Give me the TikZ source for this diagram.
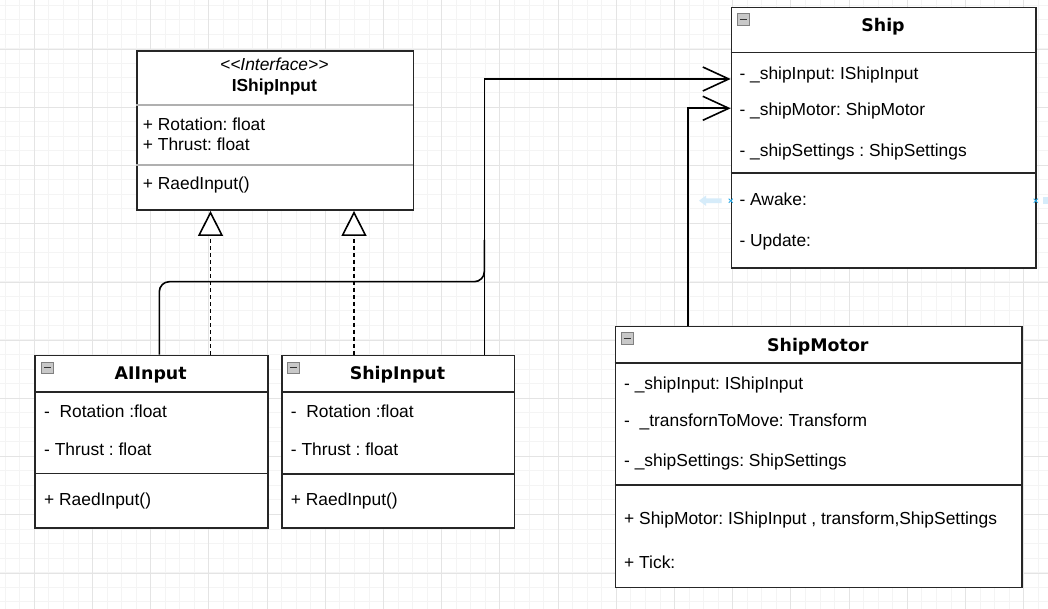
\documentclass[tikz,border=0pt]{standalone}
\usepackage{fontspec}
\setmainfont{Liberation Sans}
\newfontfamily\vfont{DejaVu Sans}
\usetikzlibrary{arrows.meta}
\frenchspacing
\definecolor{gridminor}{HTML}{F4F4F4}
\definecolor{gridmajor}{HTML}{E4E4E4}
\definecolor{boxline}{HTML}{262626}
\definecolor{sepgray}{HTML}{B0B0B0}
\definecolor{iconfill}{HTML}{C8C8C8}
\definecolor{iconline}{HTML}{808080}
\definecolor{selblue}{HTML}{29A9E6}
\definecolor{ghostblue}{HTML}{D6ECFA}
\tikzset{
  classbox/.style={draw=boxline, line width=1.6pt, fill=white, anchor=north west, inner sep=0pt},
  attr/.style={anchor=base west, inner sep=0pt, font=\fontsize{17.4}{20}\selectfont},
  ctitle/.style={anchor=base, inner sep=0pt, font=\vfont\bfseries\fontsize{17.4}{20}\selectfont},
  ititle/.style={anchor=base, inner sep=0pt, font=\bfseries\fontsize{17.4}{20}\selectfont},
  stereo/.style={anchor=base, inner sep=0pt, font=\itshape\fontsize{17.4}{20}\selectfont},
  sep/.style={draw=boxline, line width=1.6pt},
  lightsep/.style={draw=sepgray, line width=1.6pt},
  conn/.style={draw=black, line width=1.6pt},
  assoc/.style={conn, -{Straight Barb[length=26pt,width=24pt]}},
  realize/.style={conn, dash pattern=on 4pt off 3pt, -{Triangle[length=25pt,width=25pt,fill=white]}},
  iconbox/.style={draw=iconline, line width=0.8pt, fill=iconfill},
  iconminus/.style={draw=black!80, line width=1.4pt},
  gmin/.style={draw=gridminor, line width=0.9pt},
  gmaj/.style={draw=gridmajor, line width=0.9pt}
}
\begin{document}
\begin{tikzpicture}[x=1pt, y=-1pt]
\useasboundingbox (0,0) rectangle (1048,609);
\fill[white] (0,0) rectangle (1048,609);
% grid
\foreach \k in {0,...,71} {\pgfmathsetmacro\xx{5.2+\k*14.55}\draw[gmin] (\xx,0) -- (\xx,609);}
\foreach \k in {0,...,41} {\pgfmathsetmacro\yy{5.2+\k*14.55}\draw[gmin] (0,\yy) -- (1048,\yy);}
\foreach \k in {0,...,17} {\pgfmathsetmacro\xx{34.3+\k*58.2}\draw[gmaj] (\xx,0) -- (\xx,609);}
\foreach \k in {0,...,9} {\pgfmathsetmacro\yy{49.3+\k*58.2}\draw[gmaj] (0,\yy) -- (1048,\yy);}

% IShipInput
\node[classbox, minimum width=276.7pt, minimum height=159.3pt] (iface) at (136,50) {};
\draw[lightsep] (136,105) -- (412.7,105);
\draw[lightsep] (136,165) -- (412.7,165);
\node[stereo] (ifst) at (274.3,70.7) {<{}<Interface>{}>};
\node[ititle] (ifti) at (274.3,91.7) {IShipInput};
\node[attr] (ifa1) at (142.7,131) {+ Rotation: float};
\node[attr] (ifa2) at (142.7,150.7) {+ Thrust: float};
\node[attr] (ifm1) at (142.7,190) {+ RaedInput()};

% AIInput
\node[classbox, minimum width=232.7pt, minimum height=172.3pt] (aiin) at (34.3,354.7) {};
\draw[sep] (34.3,392) -- (267,392);
\draw[sep] (34.3,473.5) -- (267,473.5);
\draw[iconbox] (41.7,362) rectangle (53.7,373.3);
\draw[iconminus] (44,367.7) -- (51.4,367.7);
\node[ctitle] (aiti) at (150.7,379.3) {AIInput};
\node[attr] (aia1) at (44,417.7) {-\ \ Rotation :float};
\node[attr] (aia2) at (44,455.3) {- Thrust : float};
\node[attr] (aim1) at (44,505) {+ RaedInput()};

% ShipInput
\node[classbox, minimum width=232.4pt, minimum height=172.3pt] (shipin) at (281.3,354.7) {};
\draw[sep] (281.3,392) -- (513.7,392);
\draw[sep] (281.3,474) -- (513.7,474);
\draw[iconbox] (287.3,362) rectangle (299.3,373.3);
\draw[iconminus] (289.6,367.7) -- (297,367.7);
\node[ctitle] (siti) at (397.5,379.3) {ShipInput};
\node[attr] (sia1) at (290.7,417.7) {-\ \ Rotation :float};
\node[attr] (sia2) at (290.7,455.3) {- Thrust : float};
\node[attr] (sim1) at (290.7,505) {+ RaedInput()};

% Ship
\node[classbox, minimum width=304.6pt, minimum height=260.6pt] (ship) at (730.7,6.7) {};
\draw[sep] (730.7,52.7) -- (1035.3,52.7);
\draw[sep] (730.7,173.3) -- (1035.3,173.3);
\draw[iconbox] (737.3,13.3) rectangle (749.3,25.3);
\draw[iconminus] (739.6,19.3) -- (747,19.3);
\node[ctitle] (shti) at (883,31.2) {Ship};
\node[attr] (sha1) at (739.3,79.5) {- \_shipInput: IShipInput};
\node[attr] (sha2) at (739.3,115.5) {- \_shipMotor: ShipMotor};
\node[attr] (sha3) at (739.3,156.5) {- \_shipSettings : ShipSettings};
\node[attr] (shm1) at (739.3,206) {- Awake:};
\node[attr] (shm2) at (739.3,247) {- Update:};

% ShipMotor
\node[classbox, minimum width=406.3pt, minimum height=261pt] (motor) at (614.7,325.7) {};
\draw[sep] (614.7,363) -- (1021,363);
\draw[sep] (614.7,484.7) -- (1021,484.7);
\draw[iconbox] (621.3,332.7) rectangle (633.3,344.3);
\draw[iconminus] (623.6,338.5) -- (631,338.5);
\node[ctitle] (moti) at (817.8,351) {ShipMotor};
\node[attr] (moa1) at (624,389) {- \_shipInput: IShipInput};
\node[attr] (moa2) at (624,426.7) {-\ \ \_transfornToMove: Transform};
\node[attr] (moa3) at (624,466.7) {- \_shipSettings: ShipSettings};
\node[attr] (mom1) at (624,524.3) {+ ShipMotor: IShipInput , transform,ShipSettings};
\node[attr] (mom2) at (624,568.3) {+ Tick:};

% selection artefacts
\fill[ghostblue] (699,200.7) -- (706,195.5) -- (706,198.3) -- (721.5,198.3) -- (721.5,203.1) -- (706,203.1) -- (706,205.9) -- cycle;
\fill[ghostblue] (1043.3,197.5) rectangle (1048,203.8);
\draw[selblue, line width=0.9pt] (728.7,198.7) -- (732.7,202.7) (728.7,202.7) -- (732.7,198.7);
\draw[selblue, line width=0.9pt] (1033.7,198.7) -- (1037.7,202.7) (1033.7,202.7) -- (1037.7,198.7);

% connectors
\coordinate (r1) at ([xshift=176.2pt]aiin.north west);
\coordinate (r2) at ([xshift=72.7pt]shipin.north west);
\draw[realize] (r1) -- (r1 |- iface.south);
\draw[realize] (r2) -- (r2 |- iface.south);

\coordinate (s1) at ([yshift=-72.3pt]ship.north west);
\coordinate (s2) at ([yshift=-101.6pt]ship.north west);
\coordinate (j) at (484.3,240);
\draw[conn, rounded corners=10pt] ([xshift=125pt]aiin.north west) -- ++(0,-73) -| (j);
\draw[assoc] ([xshift=203pt]shipin.north west) |- (s1);
\draw[assoc] ([xshift=73pt]motor.north west) |- (s2);
\end{tikzpicture}
\end{document}
